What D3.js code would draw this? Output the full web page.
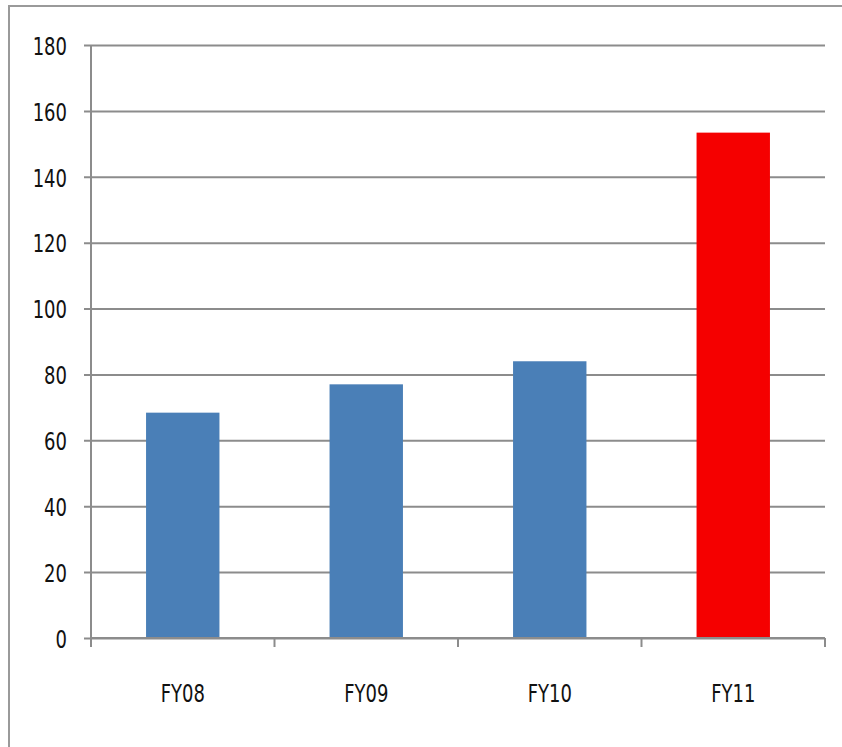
<!DOCTYPE html>
<html>
<head>
<meta charset="utf-8">
<script src="https://cdn.jsdelivr.net/npm/d3@7"></script>
<style>
  body { margin: 0; background: #fff; }
  text { font-family: "DejaVu Sans", Verdana, sans-serif; fill: #111; }
</style>
</head>
<body>
<div id="chart"></div>
<script>
var categories = ["FY08", "FY09", "FY10", "FY11"];
var values = [68.4, 77, 84, 153.4];
var barColors = ["#4a7fb7", "#4a7fb7", "#4a7fb7", "#f50000"];
var yTicks = [0, 20, 40, 60, 80, 100, 120, 140, 160, 180];

var svg = d3.select("#chart").append("svg").attr("width", 842).attr("height", 747),
    margin = {top: 45, right: 17, bottom: 109, left: 91},
    width = 842 - margin.left - margin.right,
    height = 747 - margin.top - margin.bottom,
    g = svg.append("g").attr("transform", "translate(" + margin.left + "," + margin.top + ")");

// outer frame (only left and top edges are visible in the picture)
svg.append("path")
    .attr("d", "M9,747 V6 H842")
    .attr("fill", "none")
    .attr("stroke", "#9a9a9a")
    .attr("stroke-width", 2);

var x = d3.scaleBand().domain(categories).range([0, width]).paddingInner(0.6).paddingOuter(0.3);
var y = d3.scaleLinear().domain([0, 180]).range([height, 0]);

// gridlines + y axis
var yAxis = g.append("g")
    .call(d3.axisLeft(y).tickValues(yTicks).tickSize(-width).tickSizeOuter(0).tickPadding(24));
yAxis.select(".domain").remove();
yAxis.selectAll(".tick line")
    .attr("x1", -7)
    .attr("stroke", "#8c8c8c")
    .attr("stroke-width", 2);
yAxis.selectAll(".tick text")
    .style("font-size", "18px")
    .attr("dy", null)
    .attr("dominant-baseline", "central")
    .attr("transform", function() { return "translate(" + this.getAttribute("x") + ",0) scale(1,1.42) translate(" + (-this.getAttribute("x")) + ",0)"; });

g.append("line")
    .attr("x1", 0).attr("x2", 0)
    .attr("y1", 0).attr("y2", height + 9)
    .attr("stroke", "#8c8c8c")
    .attr("stroke-width", 2);

// bars
g.selectAll(".bar")
    .data(values)
    .enter()
    .append("rect")
    .attr("class", "bar")
    .attr("x", function(d, i) { return x(categories[i]); })
    .attr("width", x.bandwidth())
    .attr("y", function(d) { return y(d); })
    .attr("height", function(d) { return height - y(d); })
    .attr("fill", function(d, i) { return barColors[i]; });

// x axis with ticks on the category boundaries
var xAxis = g.append("g")
    .attr("transform", "translate(0," + height + ")")
    .call(d3.axisBottom(x).tickSize(0).tickPadding(55));
xAxis.select(".domain").remove();
xAxis.selectAll(".tick text")
    .style("font-size", "18px")
    .attr("dy", null)
    .attr("dominant-baseline", "central")
    .attr("transform", "translate(0,55) scale(1,1.42) translate(0,-55)");

g.append("line")
    .attr("x1", 0).attr("x2", width)
    .attr("y1", height).attr("y2", height)
    .attr("stroke", "#8c8c8c")
    .attr("stroke-width", 2);

var step = x.step();
var bounds = categories.map(function(c) { return x(c) - step * 0.3; }).concat([width]);
g.selectAll(".xtick")
    .data(bounds)
    .enter()
    .append("line")
    .attr("class", "xtick")
    .attr("x1", function(d) { return d; })
    .attr("x2", function(d) { return d; })
    .attr("y1", height)
    .attr("y2", height + 9)
    .attr("stroke", "#8c8c8c")
    .attr("stroke-width", 2);
</script>
</body>
</html>
